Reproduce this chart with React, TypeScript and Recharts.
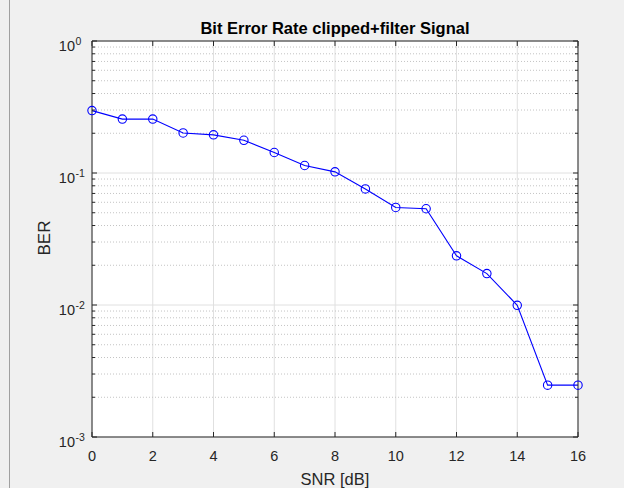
import { LineChart, Line, XAxis, YAxis, CartesianGrid, ReferenceLine } from "recharts";

// SNR sweep and measured bit error rate
const snrDb = [0, 1, 2, 3, 4, 5, 6, 7, 8, 9, 10, 11, 12, 13, 14, 15, 16];
const berValues = [
  0.297, 0.256, 0.256, 0.201, 0.1945, 0.177, 0.143, 0.114, 0.102, 0.0757,
  0.0548, 0.0536, 0.0236, 0.0173, 0.00995, 0.00247, 0.00247,
];

const xTicks = [0, 2, 4, 6, 8, 10, 12, 14, 16];
const decadeTicks = [0.001, 0.01, 0.1, 1];
const minorTicks = [
  0.002, 0.003, 0.004, 0.005, 0.006, 0.007, 0.008, 0.009,
  0.02, 0.03, 0.04, 0.05, 0.06, 0.07, 0.08, 0.09,
  0.2, 0.3, 0.4, 0.5, 0.6, 0.7, 0.8, 0.9,
];
const allYTicks = [...decadeTicks, ...minorTicks].sort((a, b) => a - b);

const data = snrDb.map((snr, i) => ({ snr, ber: berValues[i] }));

const AXIS = "#262626";
const FONT = "'Liberation Sans', Arial, Helvetica, sans-serif";

const XTick = (props: any) => {
  const { x, y, payload, top } = props;
  return (
    <g>
      <line x1={x} x2={x} y1={y} y2={top ? y + 5 : y - 5} stroke={AXIS} />
      {!top && (
        <text x={x} y={y + 24} textAnchor="middle" fontSize={14.5} fontFamily={FONT} fill={AXIS}>
          {payload.value}
        </text>
      )}
    </g>
  );
};

const YTick = (props: any) => {
  const { x, y, payload, right } = props;
  const v = payload.value;
  const major = decadeTicks.includes(v);
  const len = major ? 5 : 3;
  const exp = Math.round(Math.log10(v));
  return (
    <g>
      <line x1={x} x2={right ? x - len : x + len} y1={y} y2={y} stroke={AXIS} />
      {major && !right && (
        <g fontFamily={FONT} fill={AXIS}>
          <text x={x - 17} y={y + 10} textAnchor="end" fontSize={14.5}>10</text>
          <text x={x - 16.5} y={y + 3.5} textAnchor="start" fontSize={10.5}>{exp}</text>
        </g>
      )}
    </g>
  );
};

export default function App() {
  return (
    <div
      style={{
        position: "absolute",
        top: 0,
        left: 0,
        width: 624,
        height: 488,
        background: "#f0f0f0",
        overflow: "hidden",
      }}
    >
      <div style={{ position: "absolute", left: 9, top: 0, width: 1, height: 488, background: "#a0a0a0" }} />
      <LineChart
        width={624}
        height={488}
        data={data}
        margin={{ top: 40, right: 45, bottom: 50, left: 91 }}
      >
        <CartesianGrid horizontal={false} stroke="#e0e0e0" fill="#ffffff" />
        {minorTicks.map((v) => (
          <ReferenceLine key={`m${v}`} y={v} stroke="#c4c4c4" strokeDasharray="1 2" />
        ))}
        {decadeTicks.map((v) => (
          <ReferenceLine key={`d${v}`} y={v} stroke="#e0e0e0" />
        ))}
        <XAxis
          dataKey="snr"
          type="number"
          domain={[0, 16]}
          ticks={xTicks}
          interval={0}
          height={1}
          tickSize={0}
          tickMargin={0}
          tickLine={false}
          stroke={AXIS}
          tick={(p: any) => <XTick {...p} />}
        />
        <XAxis
          xAxisId="top"
          orientation="top"
          dataKey="snr"
          type="number"
          domain={[0, 16]}
          ticks={xTicks}
          interval={0}
          height={1}
          tickSize={0}
          tickMargin={0}
          tickLine={false}
          stroke={AXIS}
          tick={(p: any) => <XTick {...p} top />}
        />
        <YAxis
          scale="log"
          type="number"
          domain={[0.001, 1]}
          allowDataOverflow
          ticks={allYTicks}
          interval={0}
          width={1}
          tickSize={0}
          tickMargin={0}
          tickLine={false}
          stroke={AXIS}
          tick={(p: any) => <YTick {...p} />}
        />
        <YAxis
          yAxisId="right"
          orientation="right"
          scale="log"
          type="number"
          domain={[0.001, 1]}
          allowDataOverflow
          ticks={allYTicks}
          interval={0}
          width={1}
          tickSize={0}
          tickMargin={0}
          tickLine={false}
          stroke={AXIS}
          tick={(p: any) => <YTick {...p} right />}
        />
        <Line
          dataKey="ber"
          stroke="#0000ff"
          strokeWidth={1.1}
          dot={{ r: 4.2, stroke: "#0000ff", fill: "none", strokeWidth: 1.1 }}
          isAnimationActive={false}
        />
      </LineChart>
      <div
        style={{
          position: "absolute",
          top: 18.5,
          left: 92,
          width: 486,
          textAlign: "center",
          fontFamily: FONT,
          fontWeight: "bold",
          fontSize: 16.5,
          lineHeight: "normal",
          color: "#000",
        }}
      >
        Bit Error Rate clipped+filter Signal
      </div>
      <div
        style={{
          position: "absolute",
          top: 470,
          left: 92,
          width: 486,
          textAlign: "center",
          fontFamily: FONT,
          fontSize: 16.5,
          lineHeight: "normal",
          color: AXIS,
        }}
      >
        SNR [dB]
      </div>
      <div
        style={{
          position: "absolute",
          left: 45,
          top: 238,
          transform: "translate(-50%, -50%) rotate(-90deg)",
          fontFamily: FONT,
          fontSize: 17,
          color: AXIS,
          whiteSpace: "nowrap",
        }}
      >
        BER
      </div>
    </div>
  );
}
